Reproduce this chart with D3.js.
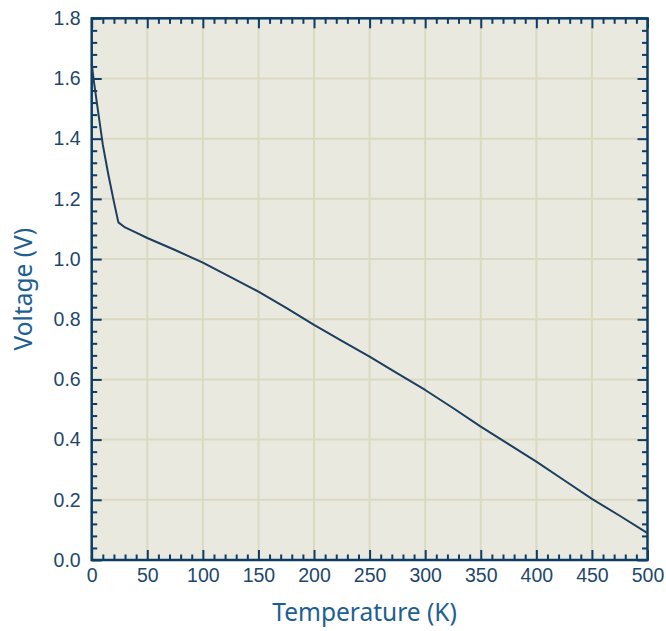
<!DOCTYPE html>
<html>
<head>
<meta charset="utf-8">
<script src="https://cdn.jsdelivr.net/npm/d3@7"></script>
<style>
  html, body { margin: 0; padding: 0; background: #ffffff; }
  svg { display: block; }
</style>
</head>
<body>
<svg id="chart" width="666" height="631"></svg>
<script>
// ---- Data ----
const temperature = [0, 2, 5, 10, 15, 20, 24, 30, 40, 50, 75, 100, 125, 150, 175, 200, 225, 250, 275, 300, 325, 350, 375, 400, 425, 450, 475, 500];
const voltage     = [1.65, 1.59, 1.51, 1.38, 1.28, 1.19, 1.122, 1.105, 1.088, 1.07, 1.03, 0.988, 0.94, 0.892, 0.838, 0.781, 0.728, 0.676, 0.62, 0.565, 0.505, 0.443, 0.385, 0.327, 0.265, 0.203, 0.147, 0.089];
const xMajorTicks = [0, 50, 100, 150, 200, 250, 300, 350, 400, 450, 500];
const yMajorTicks = [0.0, 0.2, 0.4, 0.6, 0.8, 1.0, 1.2, 1.4, 1.6, 1.8];
const xLabel = "Temperature (K)";
const yLabel = "Voltage (V)";

// ---- Layout ----
const svg = d3.select("#chart");
const pL = 91.7, pR = 647.5, pT = 18.3, pB = 560;
const x = d3.scaleLinear().domain([0, 500]).range([pL, pR]);
const y = d3.scaleLinear().domain([0, 1.8]).range([pB, pT]);

const axisColor = "#0d3d65";
const labelColor = "#1e476c";
const titleColor = "#1d6090";

// plot background
svg.append("rect")
  .attr("x", pL).attr("y", pT)
  .attr("width", pR - pL).attr("height", pB - pT)
  .attr("fill", "#eae9df");

// gridlines
const grid = svg.append("g").attr("stroke", "#dbd9c1").attr("stroke-width", 2);
xMajorTicks.slice(1, -1).forEach(t => {
  grid.append("line").attr("x1", x(t)).attr("x2", x(t)).attr("y1", pT).attr("y2", pB);
});
yMajorTicks.slice(1, -1).forEach(t => {
  grid.append("line").attr("x1", pL).attr("x2", pR).attr("y1", y(t)).attr("y2", y(t));
});

// minor ticks values
const xMinor = d3.range(0, 501, 10).filter(v => v % 50 !== 0);
const yMinor = d3.range(0, 46).map(i => +(i * 0.04).toFixed(2)).filter(v => Math.abs(v / 0.2 - Math.round(v / 0.2)) > 1e-6);

function styleAxis(g) {
  g.select(".domain").remove();
  g.selectAll(".tick line").attr("stroke", axisColor).attr("stroke-width", 2);
}

// inward major/minor ticks on all four sides
const majorLen = 10, minorLen = 5.5;
svg.append("g").attr("transform", `translate(0,${pB})`)
  .call(d3.axisTop(x).tickValues(xMinor).tickSize(minorLen).tickFormat(""))
  .call(styleAxis);
svg.append("g").attr("transform", `translate(0,${pB})`)
  .call(d3.axisTop(x).tickValues(xMajorTicks).tickSize(majorLen).tickFormat(""))
  .call(styleAxis);
svg.append("g").attr("transform", `translate(0,${pT})`)
  .call(d3.axisBottom(x).tickValues(xMinor).tickSize(minorLen).tickFormat(""))
  .call(styleAxis);
svg.append("g").attr("transform", `translate(0,${pT})`)
  .call(d3.axisBottom(x).tickValues(xMajorTicks).tickSize(majorLen).tickFormat(""))
  .call(styleAxis);
svg.append("g").attr("transform", `translate(${pL},0)`)
  .call(d3.axisRight(y).tickValues(yMinor).tickSize(minorLen).tickFormat(""))
  .call(styleAxis);
svg.append("g").attr("transform", `translate(${pL},0)`)
  .call(d3.axisRight(y).tickValues(yMajorTicks).tickSize(majorLen).tickFormat(""))
  .call(styleAxis);
svg.append("g").attr("transform", `translate(${pR},0)`)
  .call(d3.axisLeft(y).tickValues(yMinor).tickSize(minorLen).tickFormat(""))
  .call(styleAxis);
svg.append("g").attr("transform", `translate(${pR},0)`)
  .call(d3.axisLeft(y).tickValues(yMajorTicks).tickSize(majorLen).tickFormat(""))
  .call(styleAxis);

// tick labels
const xl = svg.append("g").attr("transform", `translate(0,${pB})`)
  .call(d3.axisBottom(x).tickValues(xMajorTicks).tickSize(0).tickPadding(8).tickFormat(d3.format("d")));
xl.select(".domain").remove();
xl.selectAll("text").attr("fill", labelColor).attr("font-family", "'Liberation Sans', Arial, sans-serif").attr("font-size", 19.5).attr("dy", "0.71em");

const yl = svg.append("g").attr("transform", `translate(${pL},0)`)
  .call(d3.axisLeft(y).tickValues(yMajorTicks).tickSize(0).tickPadding(11).tickFormat(d3.format(".1f")));
yl.select(".domain").remove();
yl.selectAll("text").attr("fill", labelColor).attr("font-family", "'Liberation Sans', Arial, sans-serif").attr("font-size", 19.5);

// frame
svg.append("rect")
  .attr("x", pL).attr("y", pT)
  .attr("width", pR - pL).attr("height", pB - pT)
  .attr("fill", "none").attr("stroke", axisColor).attr("stroke-width", 2.5);

// curve
const line = d3.line().x((d, i) => x(temperature[i])).y(d => y(d));
svg.append("path")
  .datum(voltage)
  .attr("d", line)
  .attr("fill", "none")
  .attr("stroke", "#1b3f5f")
  .attr("stroke-width", 2)
  .attr("stroke-linejoin", "round");

// axis titles
svg.append("text")
  .attr("x", (pL + pR) / 2 - 5).attr("y", 621)
  .attr("text-anchor", "middle")
  .attr("fill", titleColor)
  .attr("font-family", "'Noto Sans', sans-serif")
  .attr("font-size", 24.5)
  .text(xLabel);

svg.append("text")
  .attr("transform", `translate(32,${(pT + pB) / 2}) rotate(-90)`)
  .attr("text-anchor", "middle")
  .attr("fill", titleColor)
  .attr("font-family", "'Noto Sans', sans-serif")
  .attr("font-size", 24.5)
  .text(yLabel);
</script>
</body>
</html>
